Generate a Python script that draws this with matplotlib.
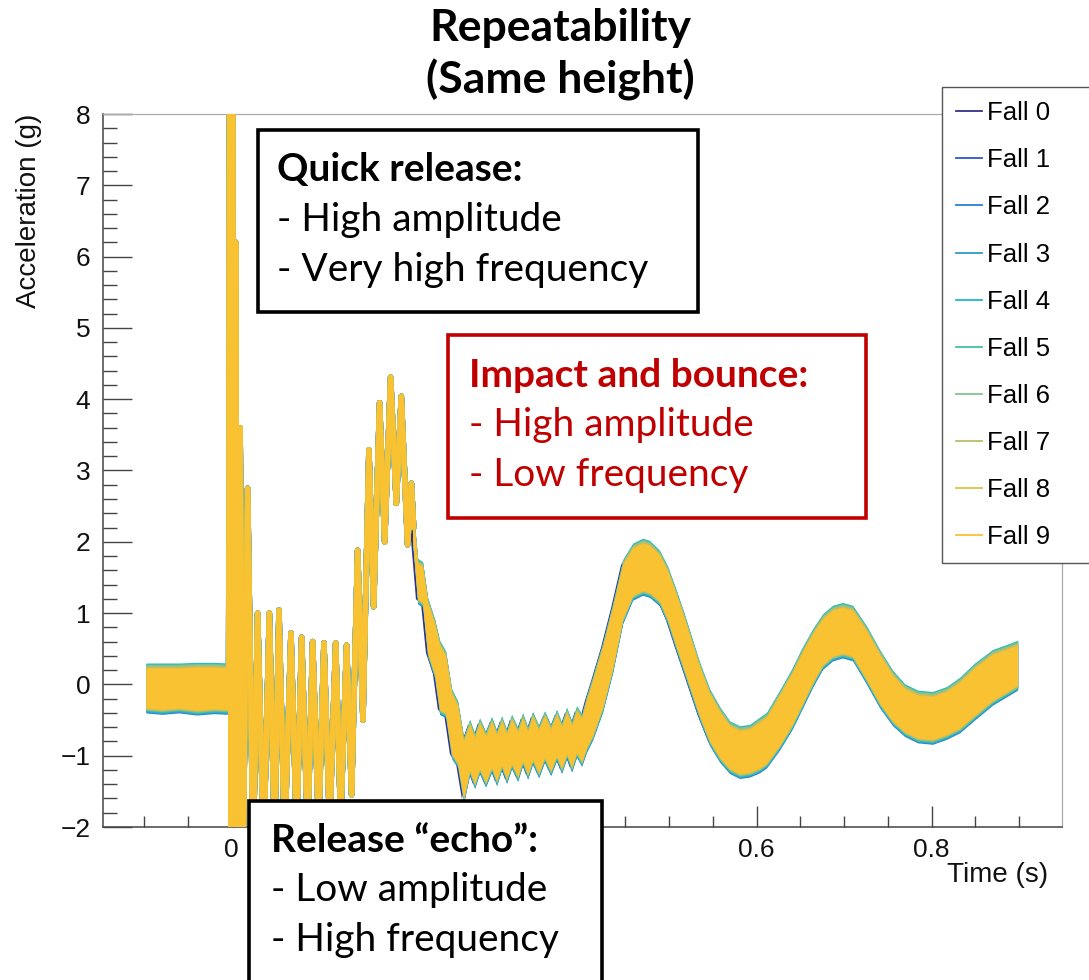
import matplotlib
matplotlib.use("Agg")
import matplotlib.pyplot as plt
from matplotlib.patches import Rectangle
from matplotlib.lines import Line2D
from matplotlib.ticker import MultipleLocator, FixedLocator
import numpy as np

# ---------------- data ----------------
fall_labels = ["Fall 0", "Fall 1", "Fall 2", "Fall 3", "Fall 4",
               "Fall 5", "Fall 6", "Fall 7", "Fall 8", "Fall 9"]
fall_colors = ["#35318a", "#2f55cf", "#2a7fd4", "#3399c6", "#22b7c8",
               "#45bfa6", "#86c28e", "#b9bd6c", "#e2bf45", "#f8c232"]
# per-fall time lead (s) in the slow bounce and extra noise margins (g)
fall_lead = [0.0025, 0.0, 0.0, 0.0, 0.0, 0.0, 0.0, 0.0, 0.0, 0.0]
fall_up_margin = [0.00, 0.02, 0.03, 0.05, 0.07, 0.06, 0.05, 0.03, 0.01, 0.00]
fall_lo_margin = [0.00, 0.04, 0.07, 0.06, 0.05, 0.04, 0.03, 0.02, 0.01, 0.00]

# before release: noise band (time s, centre g, half width g)
pre_t = [-0.098, -0.080, -0.060, -0.040, -0.020, -0.004]
pre_mid = [-0.05, -0.06, -0.05, -0.06, -0.05, -0.06]
pre_half = [0.28, 0.29, 0.28, 0.30, 0.29, 0.29]

# release spike, release echo and impact: oscillating trace (time s, accel g)
trace_t = [-0.0034, -0.0023, -0.0006, 0.0011, 0.0029, 0.0046, 0.0069, 0.0097,
           0.0131, 0.0183, 0.0246, 0.0297, 0.0366, 0.0431, 0.0491, 0.0541,
           0.0606, 0.0678, 0.0743, 0.0800, 0.0869, 0.0926, 0.0994, 0.1055,
           0.1120, 0.1189, 0.1246, 0.1314, 0.1371, 0.1440, 0.1501, 0.1569,
           0.1623, 0.1691, 0.1749, 0.1817, 0.1882, 0.1939, 0.2011, 0.2054,
           0.2080]
trace_a = [-0.05, 9.5, -3.0, 9.5, -3.0, 6.2, -3.0, 3.6,
           -2.5, 2.75, -2.4, 1.0, -2.3, 1.0, -2.2, 1.04,
           -2.2, 0.72, -2.1, 0.66, -2.1, 0.60, -2.0, 0.58,
           -2.0, 0.58, -1.9, 0.55, -1.55, 1.88, -0.5, 3.29,
           1.09, 3.95, 2.0, 4.31, 2.54, 4.04, 1.96, 2.82,
           2.2]

# after impact: noisy band (time s, centre g, half width g)
band_t = [0.2069, 0.2126, 0.2183, 0.2240, 0.2320, 0.2377, 0.2446, 0.2514,
          0.2583, 0.2651, 0.2720, 0.2777, 0.2834, 0.2903, 0.2971, 0.3029,
          0.3086, 0.3143, 0.3200, 0.3269, 0.3326, 0.3383, 0.3440, 0.3509,
          0.3577, 0.3646, 0.3714, 0.3771, 0.3829, 0.3886, 0.3943, 0.4000,
          0.4057, 0.4126, 0.4240, 0.4354, 0.4469, 0.4583, 0.4697, 0.4777,
          0.4891, 0.4983, 0.5086, 0.5177, 0.5269, 0.5349, 0.5463, 0.5577,
          0.5691, 0.5806, 0.5920, 0.6034, 0.6114, 0.6263, 0.6411, 0.6526,
          0.6640, 0.6754, 0.6869, 0.6983, 0.7097, 0.7257, 0.7406, 0.7554,
          0.7691, 0.7840, 0.8011, 0.8171, 0.8320, 0.8491, 0.8697, 0.8834,
          0.8983]
band_mid = [2.25, 1.45, 1.40, 0.80, 0.50, 0.10, 0.00, -0.55,
            -0.70, -1.20, -0.88, -1.07, -0.86, -1.05, -0.84, -1.03,
            -0.82, -1.01, -0.80, -0.98, -0.77, -0.96, -0.75, -0.94,
            -0.73, -0.92, -0.71, -0.89, -0.68, -0.87, -0.66, -0.78,
            -0.55, -0.33, 0.10, 0.65, 1.30, 1.58, 1.65, 1.62,
            1.49, 1.25, 0.88, 0.55, 0.20, -0.10, -0.46, -0.70,
            -0.88, -0.95, -0.93, -0.85, -0.78, -0.50, -0.19, 0.10,
            0.37, 0.60, 0.72, 0.76, 0.72, 0.41, 0.08, -0.19,
            -0.36, -0.45, -0.47, -0.40, -0.29, -0.10, 0.10, 0.18,
            0.27]
band_half = [0.22, 0.25, 0.25, 0.35, 0.35, 0.45, 0.40, 0.42,
             0.40, 0.40, 0.32, 0.32, 0.32, 0.32, 0.32, 0.32,
             0.31, 0.31, 0.31, 0.31, 0.30, 0.30, 0.30, 0.30,
             0.29, 0.29, 0.29, 0.29, 0.29, 0.29, 0.29, 0.30,
             0.33, 0.38, 0.42, 0.42, 0.38, 0.33, 0.33, 0.33,
             0.32, 0.34, 0.36, 0.36, 0.35, 0.34, 0.33, 0.32,
             0.30, 0.30, 0.30, 0.32, 0.32, 0.35, 0.36, 0.36,
             0.34, 0.32, 0.32, 0.32, 0.32, 0.34, 0.34, 0.32,
             0.30, 0.30, 0.30, 0.30, 0.32, 0.33, 0.32, 0.30,
             0.28]

x_ticks = [0.0, 0.2, 0.4, 0.6, 0.8]
# 0.2 and 0.4 are hidden behind the "Release echo" box in the reference
x_tick_labels = ["0", "", "", "0.6", "0.8"]
y_ticks = [-2, -1, 0, 1, 2, 3, 4, 5, 6, 7, 8]

# ---------------- figure ----------------
W, H = 1089, 980
fig = plt.figure(figsize=(W / 100, H / 100), dpi=100)
fig.patch.set_facecolor("white")

def fx(px):
    return px / W

def fy(py):
    return 1 - py / H

ax = fig.add_axes([fx(103), fy(827), fx(1062) - fx(103), fy(114) - fy(827)])
ax.set_xlim(-0.147, 0.949)
ax.set_ylim(-2, 8)

pre_t_a = np.array(pre_t)
pre_mid_a = np.array(pre_mid)
pre_half_a = np.array(pre_half)
trace_t_a = np.array(trace_t)
trace_a_a = np.array(trace_a)
band_t_a = np.array(band_t)
band_mid_a = np.array(band_mid)
band_half_a = np.array(band_half)

for i in range(10):
    c = fall_colors[i]
    lead = fall_lead[i]
    up = fall_up_margin[i]
    lo = fall_lo_margin[i]
    lw = 3.6 if i == 9 else 4.0
    z = 2 + i * 0.1
    ax.fill_between(pre_t_a, pre_mid_a - pre_half_a - lo,
                    pre_mid_a + pre_half_a + up, color=c, lw=0, zorder=z)
    ax.plot(trace_t_a, trace_a_a, color=c, lw=lw,
            solid_joinstyle="round", solid_capstyle="round", zorder=z)
    ax.fill_between(band_t_a - lead, band_mid_a - band_half_a - lo,
                    band_mid_a + band_half_a + up, color=c, lw=0, zorder=z)

# axes styling (ROOT-like)
tick_font = {"family": "Liberation Sans", "size": 19}
ax.xaxis.set_major_locator(FixedLocator(x_ticks))
ax.set_xticklabels(x_tick_labels, fontdict=tick_font)
ax.xaxis.set_minor_locator(MultipleLocator(0.05))
ax.yaxis.set_major_locator(FixedLocator(y_ticks))
ax.set_yticklabels([("\u2212" + str(-v)) if v < 0 else str(v) for v in y_ticks],
                   fontdict=tick_font)
ax.yaxis.set_minor_locator(MultipleLocator(0.2))
ax.tick_params(axis="y", which="major", direction="in", length=20.8, width=1.0,
               color="#444", pad=9, labelcolor="#111")
ax.tick_params(axis="y", which="minor", direction="in", length=10.4, width=1.0,
               color="#444")
ax.tick_params(axis="x", which="major", direction="in", length=15, width=1.0,
               color="#444", pad=8, labelcolor="#111")
ax.tick_params(axis="x", which="minor", direction="in", length=7.6, width=1.0,
               color="#444")
ax.tick_params(top=False, right=False, which="both")
for s in ["left", "bottom"]:
    ax.spines[s].set_color("#444")
    ax.spines[s].set_linewidth(1.1)
for s in ["top", "right"]:
    ax.spines[s].set_color("#aaaaaa")
    ax.spines[s].set_linewidth(0.9)

ax.set_ylabel("Acceleration (g)", fontdict={"family": "Liberation Sans", "size": 20},
              loc="top", color="#111")
ax.yaxis.set_label_coords(-0.0636, 1.0)
ax.set_xlabel("Time (s)", fontdict={"family": "Liberation Sans", "size": 20},
              loc="right", color="#111")
ax.xaxis.set_label_coords(0.9854, -0.049)

# title
title_font = "Lato"
fig.text(fx(560), fy(28), "Repeatability", ha="center", va="center",
         fontsize=32, fontweight="bold", family=title_font)
fig.text(fx(560), fy(80), "(Same height)", ha="center", va="center",
         fontsize=32, fontweight="bold", family=title_font)

# legend
handles = [Line2D([], [], color=c, lw=1.3) for c in fall_colors]
leg = fig.legend(handles, fall_labels, loc="upper left",
                 bbox_to_anchor=(fx(942), fy(560), fx(1110) - fx(942), fy(87) - fy(560)),
                 bbox_transform=fig.transFigure, mode="expand",
                 prop={"family": "Liberation Sans", "size": 18.5},
                 frameon=True, fancybox=False, edgecolor="#555555", framealpha=1,
                 borderpad=0.55, labelspacing=0.90, handlelength=1.0,
                 handletextpad=0.2, borderaxespad=0)
leg.get_frame().set_linewidth(1.0)

# annotation boxes
def box(x0, y0, x1, y1, color, lines):
    r = Rectangle((fx(x0), fy(y1)), fx(x1) - fx(x0), fy(y0) - fy(y1),
                  transform=fig.transFigure, facecolor="white", edgecolor=color,
                  linewidth=2.6, zorder=10)
    fig.patches.append(r)
    for (txt, xl, yc, bold) in lines:
        fig.text(fx(xl), fy(yc), txt, ha="left", va="center", fontsize=28,
                 fontweight="bold" if bold else "normal", color=color,
                 family=title_font, zorder=11)

box(258, 130, 698, 312, "black",
    [("Quick release:", 277, 170, True),
     ("- High amplitude", 277, 220, False),
     ("- Very high frequency", 277, 270, False)])
box(448, 335, 866, 518, "#c00000",
    [("Impact and bounce:", 469, 375, True),
     ("- High amplitude", 469, 425, False),
     ("- Low frequency", 469, 475, False)])
box(249, 801, 602, 990, "black",
    [("Release \u201cecho\u201d:", 271, 840, True),
     ("- Low amplitude", 271, 890, False),
     ("- High frequency", 271, 940, False)])

fig.savefig("out.png", dpi=100, facecolor="white")
